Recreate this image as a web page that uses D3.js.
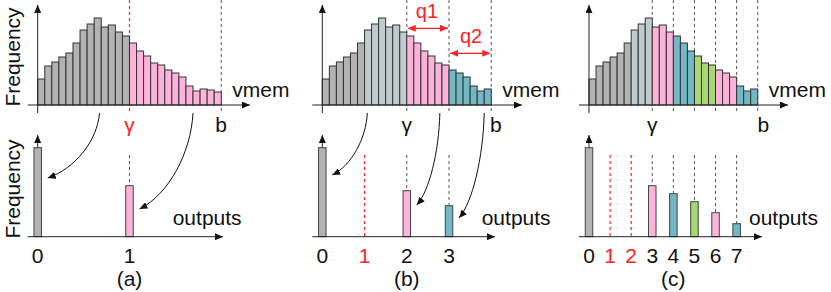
<!DOCTYPE html>
<html>
<head>
<meta charset="utf-8">
<script src="https://cdn.jsdelivr.net/npm/d3@7"></script>
<style>
  body { margin: 0; background: #fff; }
  text { font-family: "Liberation Sans", Arial, sans-serif; }
</style>
</head>
<body>
<script>
// membrane potential histogram (same in all three panels)
const freq = [26, 39, 43, 48, 52, 62, 75, 81, 87, 78, 80, 73, 69,
              62, 54, 49, 42, 40, 35, 32, 28, 19, 14, 16, 15, 13];

// colour groups of the histogram bins, as [group, number of bins]
const segA = [["gray", 13], ["pink", 13]];
const segB = [["gray", 6], ["blue", 6], ["pink", 6], ["teal", 6]];
const segC = [["gray", 6], ["blue", 3], ["pink", 3], ["teal", 3],
              ["green", 3], ["pink", 3], ["teal", 3]];

// output histograms (0 = empty output)
const outA = [89, 51];
const outB = [89, 0, 46, 31];
const outC = [89, 0, 0, 51, 43, 35, 24, 13];
const outGroupA = ["gray", "pink"];
const outGroupB = ["gray", null, "pink", "teal"];
const outGroupC = ["gray", null, null, "pink", "teal", "green", "pink", "teal"];

const captions = ["(a)", "(b)", "(c)"];

const color = {
  gray: "#b3b3b3", blue: "#bfcbcf", pink: "#ffb3db",
  teal: "#72b8c5", green: "#a8d873"
};
const red = "#f22";

const width = 831, height = 292;
const svg = d3.select("body").append("svg")
  .attr("width", width).attr("height", height);

const defs = svg.append("defs");
function marker(id, fill) {
  defs.append("marker")
    .attr("id", id)
    .attr("viewBox", "0 0 8 7")
    .attr("refX", 8).attr("refY", 3.5)
    .attr("markerWidth", 8).attr("markerHeight", 7)
    .attr("markerUnits", "userSpaceOnUse")
    .attr("orient", "auto-start-reverse")
    .append("path").attr("d", "M0,0L8,3.5L0,7z").attr("fill", fill);
}
marker("ah", "#111");
marker("ahr", red);

// layout of each panel
const panels = [
  { x0: 37.7, w: 7.06, n: 26, step: 13, gamma: 13, gammaColor: red,
    segs: segA, outs: outA, outG: outGroupA, axTopEnd: 250, axBotEnd: 223,
    outputsX: 172.7, bX: 221, bAnchor: "middle", capIdx: 1,
    arrows: [[8.75, 0, 178], [22, 1, 209]], freqLabel: true },
  { x0: 322.3, w: 7.04, n: 24, step: 6, gamma: 12, gammaColor: "#111",
    segs: segB, outs: outB, outG: outGroupB, axTopEnd: 522, axBotEnd: 495,
    outputsX: 481.7, bX: 490, bAnchor: "start", capIdx: 2,
    arrows: [[6.4, 0, 175], [16.7, 2, 205], [23, 3, 218]], q: true },
  { x0: 589, w: 7.03, n: 24, step: 3, gamma: 9, gammaColor: "#111",
    segs: segC, outs: outC, outG: outGroupC, axTopEnd: 788, axBotEnd: 762,
    outputsX: 749, bX: 757.5, bAnchor: "start", capIdx: 4,
    arrows: [] }
];

const yTop = d3.scaleLinear().domain([0, 100]).range([105, 5]);
const yBot = d3.scaleLinear().domain([0, 100]).range([236.7, 136.7]);

panels.forEach((p, pi) => {
  const g = svg.append("g");
  const xs = d3.scaleLinear().domain([0, p.n]).range([p.x0, p.x0 + p.n * p.w]);
  const binGroup = p.segs.flatMap(([grp, k]) => d3.range(k).map(() => grp));
  const data = freq.slice(0, p.n).map((v, i) => ({ v, i, grp: binGroup[i] }));

  // top dashed boundaries (the gamma one is red in panel a)
  d3.range(p.gamma, p.n + 1, p.step).forEach((b, k) => {
    const isRed = k === 0 && p.gammaColor === red;
    g.append("line")
      .attr("x1", xs(b)).attr("x2", xs(b)).attr("y1", 0).attr("y2", 114)
      .attr("stroke", isRed ? red : "#555")
      .attr("stroke-width", isRed ? 1.2 : 1).attr("stroke-dasharray", "3,3");
  });

  // histogram bars
  g.selectAll("rect.h").data(data).join("rect")
    .attr("x", d => xs(d.i)).attr("width", p.w)
    .attr("y", d => yTop(d.v)).attr("height", d => yTop(0) - yTop(d.v))
    .attr("fill", d => color[d.grp])
    .attr("stroke", "#333").attr("stroke-width", 1);

  // top axes
  g.append("line").attr("x1", p.x0).attr("x2", p.x0).attr("y1", 113).attr("y2", 5)
    .attr("stroke", "#222").attr("marker-end", "url(#ah)");
  g.append("line").attr("x1", p.x0 - 10).attr("x2", p.axTopEnd).attr("y1", 105).attr("y2", 105)
    .attr("stroke", "#222").attr("marker-end", "url(#ah)");

  g.append("text").attr("x", xs(p.n) + 11).attr("y", 96.7)
    .attr("font-size", 21).attr("fill", "#111").text("vmem");
  g.append("text").attr("x", xs(p.gamma)).attr("y", 132)
    .attr("text-anchor", "middle").attr("font-size", 21)
    .attr("fill", p.gammaColor).text("γ");
  g.append("text").attr("x", p.bX).attr("y", 132)
    .attr("text-anchor", p.bAnchor).attr("font-size", 21)
    .attr("fill", "#111").text("b");

  // q1 / q2 ranges
  if (p.q) {
    [[12, 18, 28.3, 18, "q1"], [18, 24, 53.3, 43, "q2"]].forEach(([a, b, yy, ty, label]) => {
      g.append("line").attr("x1", xs(a) + 1).attr("x2", xs(b) - 1)
        .attr("y1", yy).attr("y2", yy)
        .attr("stroke", red).attr("stroke-width", 1.3)
        .attr("marker-start", "url(#ahr)").attr("marker-end", "url(#ahr)");
      g.append("text").attr("x", (xs(a) + xs(b)) / 2 - (label === "q1" ? 1 : -1)).attr("y", ty)
        .attr("text-anchor", "middle").attr("font-size", 20)
        .attr("fill", red).text(label);
    });
  }

  // output histogram
  const ox = k => xs(k * p.step);
  const bw = 7.5;
  p.outs.forEach((v, k) => {
    if (k > 0) {
      g.append("line").attr("x1", ox(k)).attr("x2", ox(k))
        .attr("y1", 155).attr("y2", v > 0 ? yBot(v) : yBot(0))
        .attr("stroke", v > 0 ? "#555" : red)
        .attr("stroke-width", v > 0 ? 1 : 1.2).attr("stroke-dasharray", "3,3");
    }
  });

  g.append("line").attr("x1", p.x0).attr("x2", p.x0).attr("y1", 237).attr("y2", 135)
    .attr("stroke", "#222").attr("marker-end", "url(#ah)");

  const outData = p.outs.map((v, k) => ({ v, k, grp: p.outG[k] })).filter(d => d.v > 0);
  g.selectAll("rect.o").data(outData).join("rect")
    .attr("x", d => ox(d.k) - bw / 2).attr("width", bw)
    .attr("y", d => yBot(d.v)).attr("height", d => yBot(0) - yBot(d.v))
    .attr("fill", d => color[d.grp])
    .attr("stroke", "#444").attr("stroke-width", 1);

  g.append("line").attr("x1", p.x0 - 10).attr("x2", p.axBotEnd).attr("y1", 236.7).attr("y2", 236.7)
    .attr("stroke", "#222").attr("marker-end", "url(#ah)");

  g.append("text").attr("x", p.outputsX).attr("y", 225)
    .attr("font-size", 21).attr("fill", "#111").text("outputs");

  p.outs.forEach((v, k) => {
    g.append("text").attr("x", ox(k)).attr("y", 263)
      .attr("text-anchor", "middle").attr("font-size", 21)
      .attr("fill", v > 0 ? "#111" : red).text(k);
  });

  g.append("text").attr("x", ox(p.capIdx)).attr("y", 286)
    .attr("text-anchor", "middle").attr("font-size", 21)
    .attr("fill", "#111").text(captions[pi]);

  // curved mapping arrows
  p.arrows.forEach(([bin, k, ey]) => {
    const sx = xs(bin), sy = 113;
    const ex = ox(k) + 10;
    const dx = sx - ex, dy = ey - sy;
    const path = d3.path();
    path.moveTo(sx, sy);
    path.bezierCurveTo(sx - 0.04 * dx, sy + 0.42 * dy, ex + 0.54 * dx, ey - 0.15 * dy, ex, ey);
    g.append("path").attr("d", path.toString())
      .attr("fill", "none").attr("stroke", "#111").attr("stroke-width", 1)
      .attr("marker-end", "url(#ah)");
  });

  if (p.freqLabel) {
    [57, 189].forEach(cy => {
      g.append("text").attr("transform", `translate(20,${cy}) rotate(-90)`)
        .attr("text-anchor", "middle").attr("font-size", 21)
        .attr("fill", "#111").text("Frequency");
    });
  }
});
</script>
</body>
</html>
